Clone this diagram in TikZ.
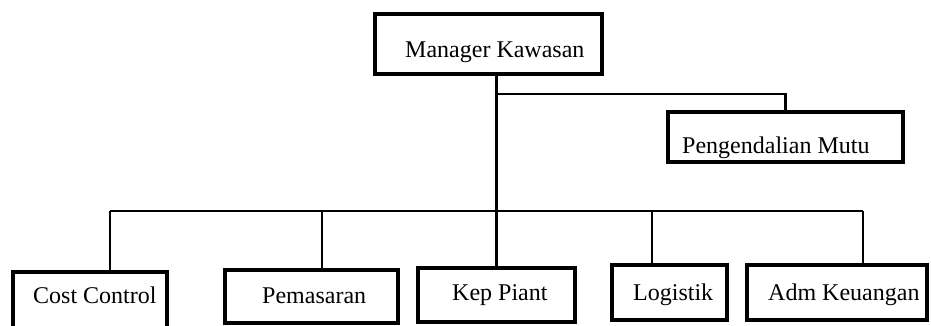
\documentclass[tikz,border=0pt]{standalone}
\usepackage{fontspec}
\setmainfont{Liberation Serif}
\begin{document}
\begin{tikzpicture}[x=1pt,y=-1pt,
  box/.style={draw, line width=4pt, rectangle, inner sep=0pt},
  lbl/.style={inner sep=0pt, anchor=base west, font=\fontsize{24}{28}\selectfont},
  link/.style={line width=2.6pt}]
\useasboundingbox (0,0) rectangle (931,325);
\clip (0,0) rectangle (931,325);

% boxes
\node[box, minimum width=227pt, minimum height=60pt] (mgr) at (488.5,44) {};
\node[box, minimum width=235pt, minimum height=50pt] (pm)  at (785.5,137) {};
\node[box, minimum width=154pt, minimum height=63pt] (cc)  at (90,303.5) {};
\node[box, minimum width=173pt, minimum height=53pt] (pem) at (311.5,296.5) {};
\node[box, minimum width=157pt, minimum height=54pt] (kep) at (496.5,295) {};
\node[box, minimum width=115pt, minimum height=55pt] (log) at (669.5,292.5) {};
\node[box, minimum width=180pt, minimum height=55pt] (adm) at (837,292.5) {};

% labels
\node[lbl] (mgrT) at (405,57)  {Manager Kawasan};
\node[lbl] (pmT)  at (682,153) {Pengendalian Mutu};
\node[lbl] (ccT)  at (33,303)  {Cost Control};
\node[lbl] (pemT) at (262,303) {Pemasaran};
\node[lbl] (kepT) at (452,300) {Kep Piant};
\node[lbl] (logT) at (633,300) {Logistik};
\node[lbl] (admT) at (768,300) {Adm Keuangan};

% junction points
\coordinate (jpm)  at (496,94);
\coordinate (bcc)  at (110,211);
\coordinate (bpem) at (322,211);
\coordinate (blog) at (652,211);
\coordinate (badm) at (863,211);

% connectors
\draw[link] (kep.north |- mgr.south) -- (kep.north);
\draw[link] (jpm) -| (pm.north);
\draw[link] (bcc) -- (badm);
\draw[link] (bcc) -- (bcc |- cc.north);
\draw[link] (bpem) -- (bpem |- pem.north);
\draw[link] (blog) -- (blog |- log.north);
\draw[link] (badm) -- (badm |- adm.north);
\end{tikzpicture}
\end{document}
